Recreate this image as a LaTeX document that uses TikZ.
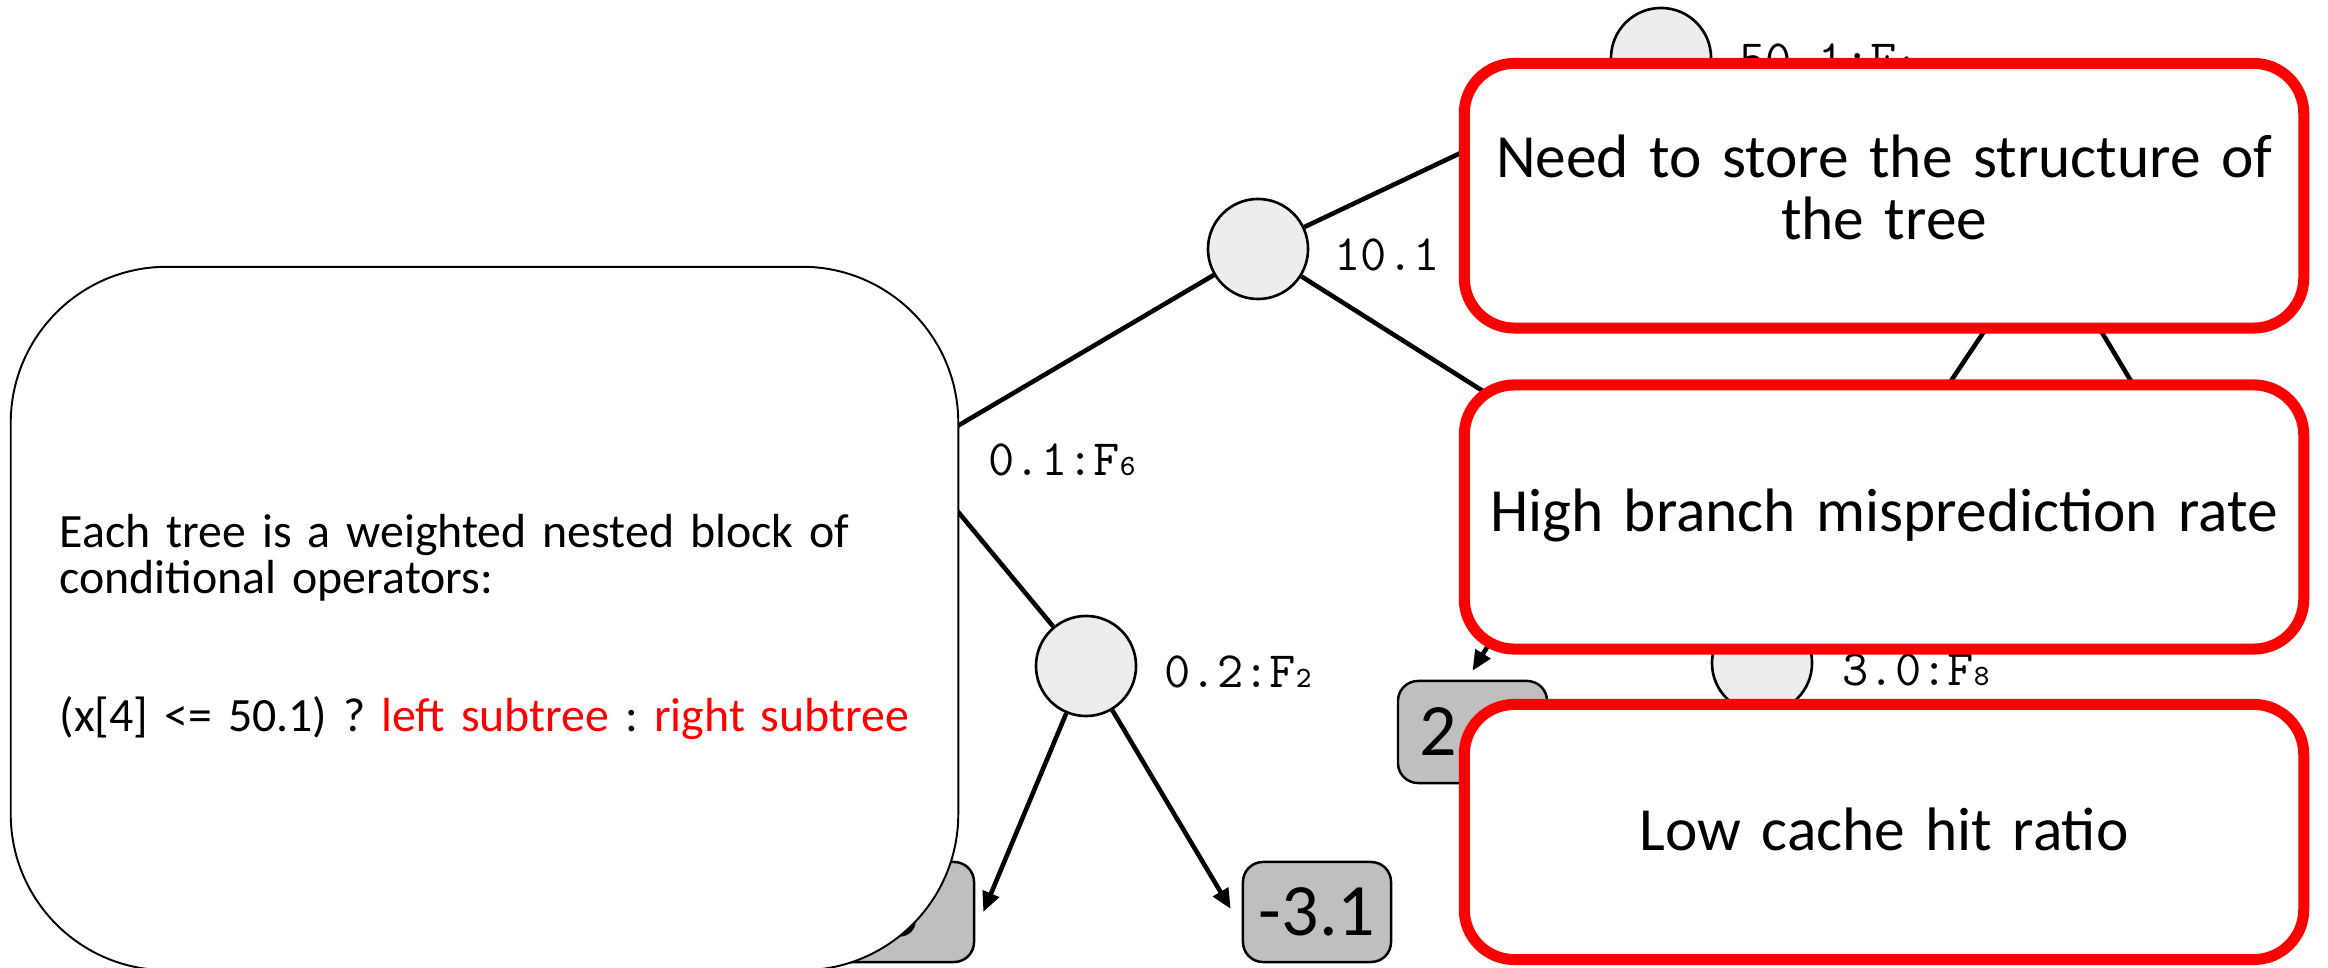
\documentclass[tikz,border=0pt]{standalone}
\usepackage{fontspec}
\setmainfont{Carlito}
\usetikzlibrary{arrows.meta,calc}

\definecolor{nodegray}{HTML}{EDEDED}
\definecolor{leafgray}{HTML}{BFBFBF}
\definecolor{alarm}{HTML}{FF0000}

% split label: threshold and feature letter, feature index set small on the baseline
\newcommand{\splitlabel}[2]{{\ttfamily\fontsize{14.48pt}{17pt}\selectfont #1{\fontsize{8.4pt}{10pt}\selectfont #2}}}

\begin{document}
\frenchspacing
\begin{tikzpicture}[x=0.01cm,y=-0.01cm,
  treenode/.style={circle,draw=black,line width=0.75pt,fill=nodegray,minimum size=1cm,inner sep=0pt},
  leafbox/.style={rectangle,rounded corners=0.2cm,draw=black,line width=0.7pt,fill=leafgray,
    minimum width=1.48cm,minimum height=1cm,inner sep=0pt,font=\fontsize{21pt}{24pt}\selectfont},
  splitlbl/.style={anchor=base west,inner sep=0pt},
  edge/.style={line width=1.3pt,draw=black},
  arr/.style={line width=1.3pt,draw=black,-{Triangle[length=0.2cm,width=0.17cm]}},
  notebox/.style={rectangle,rounded corners=1.56cm,draw=black,line width=0.55pt,fill=white,
    minimum width=9.47cm,minimum height=7.03cm,inner sep=0pt},
  issuebox/.style={rectangle,rounded corners=0.5cm,draw=alarm,line width=3.13pt,fill=white,
    minimum width=8.39cm,inner sep=0pt},
  issuetext/.style={anchor=base,inner sep=0pt,text width=8.3cm,align=center,
    font=\fontsize{17.45pt}{17.4pt}\selectfont},
]
\useasboundingbox (0,0) rectangle (2328,968);
\clip (0,0) rectangle (2328,968);

% hidden branching points of the tree
\coordinate (R) at (910,454);
\coordinate (D) at (1600,465);
\coordinate (P) at (2046,239);
\coordinate (Q) at (2256,590);

% split nodes
\node[treenode] (A) at (1258,249) {};
\node[treenode] (B) at (1661,58) {};
\node[treenode] (C) at (1086,666) {};
\node[treenode] (E) at (1762,663) {};

% leaves
\node[leafbox] (L1) at (900,912) {6};
\node[leafbox] (L2) at (1317,912) {-3.1};
\node[leafbox,minimum width=1.49cm,minimum height=1.02cm] (L3) at (1472.5,732) {\hspace*{-0.12cm}2.0};

% branches
\draw[edge] (R) -- (A);
\draw[edge] (R) -- (C);
\draw[edge] (A) -- (B);
\draw[edge] (A) -- (D);
\draw[edge] (P) -- (E);
\draw[edge] (P) -- (Q);
\draw[arr] (D) -- ([yshift=0.09cm]L3.north);
\draw[arr] (C) -- ([xshift=0.08cm]L1.east);
\draw[arr] (C) -- ([xshift=-0.11cm,yshift=0.03cm]L2.west);

% split labels
\node[splitlbl] (lR) at (988,476) {\splitlabel{0.1:F}{6}};
\node[splitlbl] (lA) at (1334,271) {\splitlabel{10.1}{}};
\node[splitlbl] (lB) at (1739,76) {\splitlabel{50.1:F}{4}};
\node[splitlbl] (lC) at (1164,688) {\splitlabel{0.2:F}{2}};
\node[splitlbl] (lE) at (1842,686) {\splitlabel{3.0:F}{8}};

% explanation box
\node[notebox] (note) at (484.5,618.5) {};
\node[anchor=base west,inner sep=0pt,text width=9.2cm,align=left,
  font=\fontsize{13.6pt}{12.8pt}\selectfont] (notetext) at (59,548)
  {Each tree is a weighted nested block of\\
   conditional operators:\\[26.6pt]
   (x[4] <= 50.1) ? \textcolor{alarm}{left subtree} : \textcolor{alarm}{right subtree}};

% problem boxes
\node[issuebox,minimum height=2.645cm] (i1) at (1884,195.75) {};
\node[issuebox,minimum height=2.64cm] (i2) at (1884,517) {};
\node[issuebox,minimum height=2.55cm] (i3) at (1884,832) {};
\node[issuetext] (t1) at (1884,178) {Need to store the structure of\\ the tree};
\node[issuetext] (t2) at (1884,532) {High branch misprediction rate};
\node[issuetext] (t3) at (1884,851) {Low cache hit ratio};
\end{tikzpicture}
\end{document}
